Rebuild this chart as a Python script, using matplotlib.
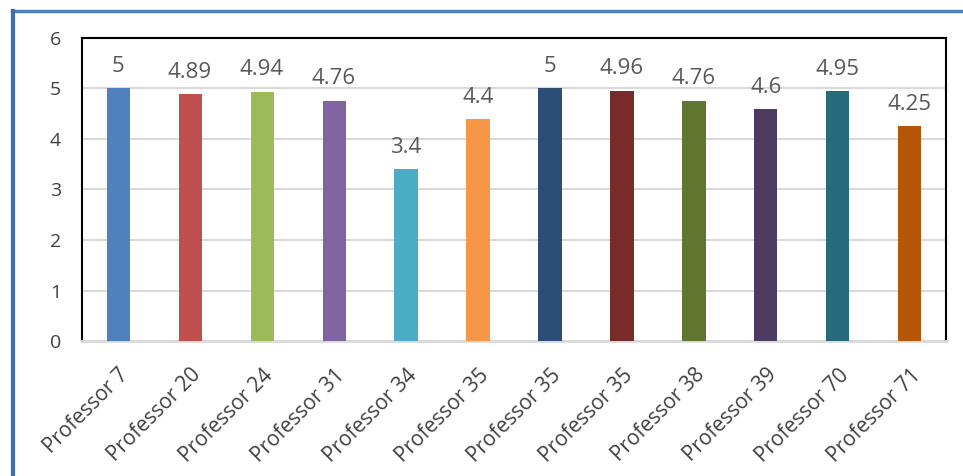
import matplotlib.pyplot as plt
from matplotlib.lines import Line2D

# --- data ---
professors = ["Professor 7", "Professor 20", "Professor 24", "Professor 31",
              "Professor 34", "Professor 35", "Professor 35", "Professor 35",
              "Professor 38", "Professor 39", "Professor 70", "Professor 71"]
scores = [5, 4.89, 4.94, 4.76, 3.4, 4.4, 5, 4.96, 4.76, 4.6, 4.95, 4.25]
bar_colors = ["#4F81BD", "#C0504D", "#9BBB59", "#8064A2", "#4BACC6", "#F79646",
              "#2C4D75", "#772C2A", "#5F7530", "#4D3B62", "#276A7C", "#B65708"]

plt.rcParams['font.family'] = ['Open Sans', 'DejaVu Sans']

fig = plt.figure(figsize=(9.63, 4.76), dpi=100)
ax = fig.add_axes([0.0852, 0.2836, 0.8971, 0.6366])

x = range(len(professors))
bars = ax.bar(x, scores, width=0.32, color=bar_colors, zorder=3)
ax.bar_label(bars, labels=[f"{v:g}" for v in scores], padding=8,
             fontsize=16, color="#595959")

ax.set_xlim(-0.5, len(professors) - 0.5)
ax.set_ylim(0, 6)
ax.set_yticks(range(7))
ax.yaxis.grid(True, color="#D9D9D9", linewidth=1.5, zorder=0)
ax.set_axisbelow(True)

ax.set_xticks(list(x))
ax.set_xticklabels(professors, rotation=45, ha="right", va="top",
                   rotation_mode="anchor", fontsize=15, color="#404040")
ax.tick_params(axis="x", length=0, pad=17)
ax.tick_params(axis="y", length=0, pad=15, labelsize=14, labelcolor="#404040")

for side in ["top", "left", "right"]:
    ax.spines[side].set_color("black")
    ax.spines[side].set_linewidth(1.5)
ax.spines["bottom"].set_color("#D9D9D9")
ax.spines["bottom"].set_linewidth(2)

# blue frame around the chart (cut off at right and bottom)
W, H = 963, 476
fig.add_artist(Line2D([12 / W, 1], [1 - 11 / H, 1 - 11 / H],
                      transform=fig.transFigure, color="#4F81BD", linewidth=2.5))
fig.add_artist(Line2D([13 / W, 13 / W], [0, 1 - 11 / H],
                      transform=fig.transFigure, color="#3F6FAA", linewidth=3))

fig.savefig("out.png", dpi=100)
